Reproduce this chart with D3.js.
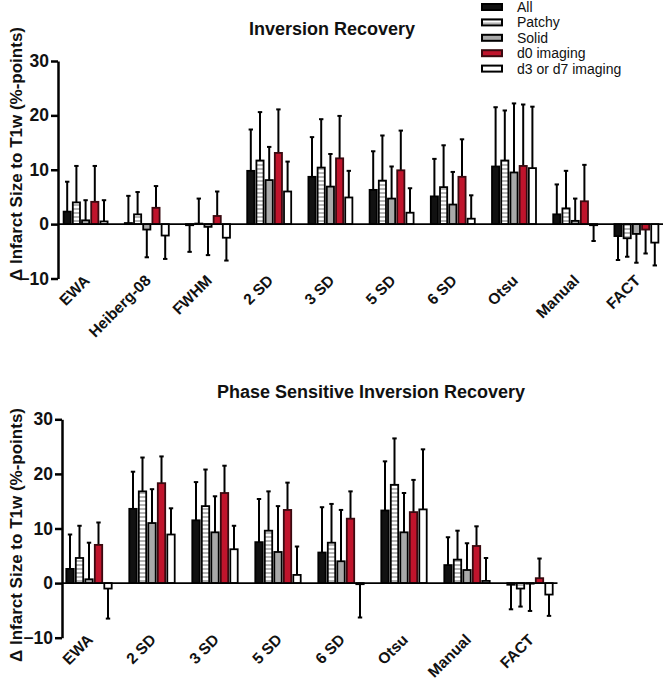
<!DOCTYPE html>
<html>
<head>
<meta charset="utf-8">
<script src="https://cdn.jsdelivr.net/npm/d3@7"></script>
<style>
  body { margin: 0; background: #fff; }
  text { font-family: "Liberation Sans", Arial, sans-serif; }
</style>
</head>
<body>
<div id="chart"></div>
<script>
const seriesNames = ["All", "Patchy", "Solid", "d0 imaging", "d3 or d7 imaging"];
const yTicks = [-10, 0, 10, 20, 30];

// Inversion Recovery
const irCategories = ["EWA", "Heiberg-08", "FWHM", "2 SD", "3 SD", "5 SD", "6 SD", "Otsu", "Manual", "FACT"];
const irAll = [2.3, 0.2, -0.2, 9.8, 8.7, 6.3, 5.1, 10.6, 1.8, -2.2];
const irAllSd = [5.5, 5.0, 4.9, 7.6, 7.3, 7.1, 6.9, 10.9, 5.5, 4.4];
const irPatchy = [4.0, 1.8, 0.1, 11.7, 10.4, 8.0, 6.8, 11.7, 2.9, -2.6];
const irPatchySd = [6.7, 4.1, 4.6, 8.9, 8.9, 8.3, 7.7, 9.2, 6.9, 3.4];
const irSolid = [0.7, -1.0, -0.5, 8.1, 6.9, 4.7, 3.6, 9.5, 0.6, -1.8];
const irSolidSd = [3.7, 5.1, 5.2, 6.1, 6.0, 5.9, 6.0, 12.7, 4.1, 5.3];
const irD0 = [4.1, 3.0, 1.5, 13.1, 12.1, 9.9, 8.7, 10.7, 4.2, -1.0];
const irD0Sd = [6.6, 4.0, 4.5, 8.0, 7.8, 7.3, 6.9, 11.3, 6.7, 4.4];
const irD3 = [0.5, -2.1, -2.5, 6.0, 4.9, 2.1, 1.0, 10.3, -0.2, -3.4];
const irD3Sd = [3.9, 4.3, 4.2, 5.5, 4.9, 4.5, 4.3, 11.3, 2.9, 4.2];

// Phase Sensitive Inversion Recovery
const psCategories = ["EWA", "2 SD", "3 SD", "5 SD", "6 SD", "Otsu", "Manual", "FACT"];
const psAll = [2.6, 13.6, 11.5, 7.5, 5.6, 13.3, 3.3, -0.3];
const psAllSd = [6.3, 6.8, 7.0, 7.9, 8.3, 9.0, 5.1, 4.5];
const psPatchy = [4.6, 16.8, 14.1, 9.6, 7.4, 18.0, 4.3, -1.0];
const psPatchySd = [5.9, 6.2, 6.7, 7.2, 7.1, 8.5, 5.3, 3.3];
const psSolid = [0.7, 11.0, 9.3, 5.7, 4.0, 9.3, 2.4, -0.1];
const psSolidSd = [6.7, 6.2, 6.6, 8.4, 9.4, 7.2, 4.9, 5.0];
const psD0 = [7.0, 18.3, 16.5, 13.4, 11.8, 13.0, 6.8, 0.9];
const psD0Sd = [4.1, 4.9, 5.0, 5.0, 5.0, 5.9, 3.6, 3.6];
const psD3 = [-1.0, 8.9, 6.2, 1.5, -0.2, 13.5, 0.4, -2.1];
const psD3Sd = [5.5, 4.8, 4.3, 5.2, 6.1, 11.0, 4.2, 3.9];

const fills = ["#111", "url(#patchy)", "#a9a9a9", "#c0142c", "#fff"];
const strokes = ["#000", "#000", "#000", "#3a0a10", "#000"];

const svg = d3.select("#chart").append("svg")
  .attr("width", 665).attr("height", 681);

// patchy bar fill: grey ladder on white
const pat = svg.append("defs").append("pattern")
  .attr("id", "patchy").attr("patternUnits", "userSpaceOnUse")
  .attr("width", 8).attr("height", 4);
pat.append("rect").attr("width", 8).attr("height", 4).attr("fill", "#fff");
pat.append("rect").attr("width", 8).attr("height", 2).attr("fill", "#b5b5b5");

const drawPanel = (cfg) => {
  const g = svg.append("g");
  const x = d3.scaleBand().domain(cfg.categories).range(cfg.xRange);
  const sub = d3.scaleBand().domain(seriesNames).range([-cfg.groupHalf, cfg.groupHalf]);
  const y = d3.scaleLinear().domain([-10, 30]).range(cfg.yRange);
  const barW = sub.step() * 0.78;

  const rows = [];
  cfg.means.forEach((arr, s) => arr.forEach((v, i) => rows.push({
    cat: cfg.categories[i], s, v, sd: cfg.sds[s][i]
  })));

  // error bars (one sided, same direction as the bar)
  const err = g.selectAll(".err").data(rows).enter().append("g");
  const cx = (d) => x(d.cat) + x.bandwidth() / 2 + sub(seriesNames[d.s]) + sub.step() / 2;
  const tip = (d) => d.v >= 0 ? d.v + d.sd : d.v - d.sd;
  err.append("line")
    .attr("x1", cx).attr("x2", cx)
    .attr("y1", (d) => y(d.v)).attr("y2", (d) => y(tip(d)))
    .attr("stroke", "#000").attr("stroke-width", 2);
  err.append("line")
    .attr("x1", (d) => cx(d) - 2.2).attr("x2", (d) => cx(d) + 2.2)
    .attr("y1", (d) => y(tip(d))).attr("y2", (d) => y(tip(d)))
    .attr("stroke", "#000").attr("stroke-width", 2);

  // bars
  g.selectAll(".bar").data(rows).enter().append("rect")
    .attr("x", (d) => cx(d) - barW / 2)
    .attr("width", barW)
    .attr("y", (d) => y(Math.max(0, d.v)))
    .attr("height", (d) => Math.abs(y(d.v) - y(0)))
    .attr("fill", (d) => fills[d.s])
    .attr("stroke", (d) => strokes[d.s])
    .attr("stroke-width", 1.8);

  // zero line
  g.append("line")
    .attr("x1", cfg.axisX).attr("x2", cfg.xRange[1] - 4)
    .attr("y1", y(0)).attr("y2", y(0))
    .attr("stroke", "#000").attr("stroke-width", 1.6);

  // y axis
  const ax = g.append("g")
    .attr("transform", `translate(${cfg.axisX},0)`)
    .call(d3.axisLeft(y).tickValues(yTicks).tickSize(7).tickSizeOuter(0).tickPadding(2));
  ax.select(".domain").attr("stroke-width", 2.5);
  ax.selectAll(".tick line").attr("stroke-width", 2.5);
  ax.selectAll(".tick text")
    .attr("font-size", 17.5).attr("font-weight", "bold").attr("fill", "#111")
    .style("font-family", "'Liberation Sans', Arial, sans-serif");

  // category labels
  g.selectAll(".cat").data(cfg.categories).enter().append("text")
    .attr("transform", (d) => `translate(${x(d) + x.bandwidth() / 2 + 5},${cfg.yRange[0] + 3}) rotate(-45)`)
    .attr("text-anchor", "end")
    .attr("font-size", 15.5).attr("font-weight", "bold").attr("fill", "#111")
    .text((d) => d);

  // title and y label
  g.append("text")
    .attr("x", cfg.titleX).attr("y", cfg.titleY)
    .attr("text-anchor", "middle")
    .attr("font-size", 18).attr("font-weight", "bold").attr("fill", "#111")
    .text(cfg.title);
  g.append("text")
    .attr("transform", `translate(22,${cfg.labelY}) rotate(-90)`)
    .attr("text-anchor", "middle")
    .attr("font-size", 17).attr("font-weight", "bold").attr("fill", "#111")
    .text("\u0394 Infarct Size to T1w (%-points)");
};

drawPanel({
  title: "Inversion Recovery", titleX: 332, titleY: 35, labelY: 154,
  categories: irCategories,
  means: [irAll, irPatchy, irSolid, irD0, irD3],
  sds: [irAllSd, irPatchySd, irSolidSd, irD0Sd, irD3Sd],
  xRange: [55, 667], yRange: [278.5, 61], axisX: 58, groupHalf: 23
});

drawPanel({
  title: "Phase Sensitive Inversion Recovery", titleX: 371, titleY: 398, labelY: 535,
  categories: psCategories,
  means: [psAll, psPatchy, psSolid, psD0, psD3],
  sds: [psAllSd, psPatchySd, psSolidSd, psD0Sd, psD3Sd],
  xRange: [57.5, 561.5], yRange: [637.7, 419.3], axisX: 62, groupHalf: 23.75
});

// legend
const legend = svg.append("g").attr("transform", "translate(481,7)");
const item = legend.selectAll(".item").data(seriesNames).enter().append("g")
  .attr("transform", (d, i) => `translate(0,${i * 15.4})`);
item.append("rect")
  .attr("x", 1).attr("y", -3).attr("width", 20).attr("height", 6)
  .attr("fill", (d, i) => fills[i])
  .attr("stroke", (d, i) => strokes[i]).attr("stroke-width", 2);
item.append("text")
  .attr("x", 36).attr("y", 5)
  .attr("font-size", 14).attr("fill", "#111")
  .text((d) => d);
</script>
</body>
</html>
